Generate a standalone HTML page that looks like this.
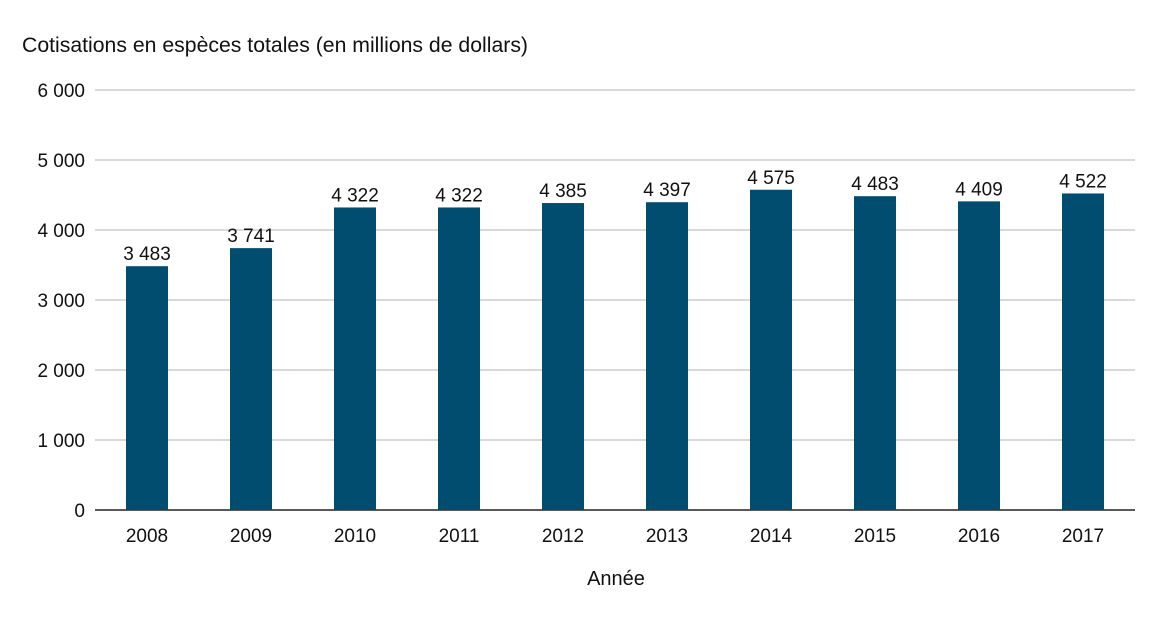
<!DOCTYPE html>
<html><head><meta charset="utf-8"><style>
body{margin:0;background:#fff;}
svg text{font-family:"Liberation Sans Narrow","Liberation Sans",sans-serif;fill:#111;}
</style></head><body>
<svg id="chart" width="1171" height="618" viewBox="0 0 1171 618" xmlns="http://www.w3.org/2000/svg">
<text x="22" y="52" font-size="21" textLength="506" lengthAdjust="spacingAndGlyphs">Cotisations en espèces totales (en millions de dollars)</text>
<g id="grid"></g><g id="bars"></g><g id="xlabels"></g>
<text x="616" y="585" font-size="20" text-anchor="middle">Année</text>
</svg>
<script>
const categories=["2008","2009","2010","2011","2012","2013","2014","2015","2016","2017"];
const values=[3483,3741,4322,4322,4385,4397,4575,4483,4409,4522];
const valueLabels=["3 483","3 741","4 322","4 322","4 385","4 397","4 575","4 483","4 409","4 522"];
const yTicks=[0,1000,2000,3000,4000,5000,6000];
const yTickLabels=["0","1 000","2 000","3 000","4 000","5 000","6 000"];
const NS="http://www.w3.org/2000/svg";
const x0=95,x1=1135,y0=510,yTop=90,yMax=6000;
const y=v=>y0-(v/yMax)*(y0-yTop);
const band=(x1-x0)/categories.length;
const xc=i=>x0+band*(i+0.5);
function mk(t,a,p){const e=document.createElementNS(NS,t);for(const k in a)e.setAttribute(k,a[k]);p.appendChild(e);return e;}
const g=document.getElementById('grid');
yTicks.forEach((t,i)=>{
 const l=mk('line',{x1:x0,x2:x1,y1:y(t),y2:y(t),stroke:i==0?'#222':'#b3b3b3','stroke-width':i==0?1.5:1},g);
 
 
 const tx=mk('text',{x:85,y:y(t)+7,'font-size':19,'text-anchor':'end'},g);
 tx.textContent=yTickLabels[i];
 
 
});
const b=document.getElementById('bars'),xl=document.getElementById('xlabels');
const bw=42;
values.forEach((v,i)=>{
 const r=mk('rect',{x:xc(i)-bw/2,y:y(v),width:bw,height:y0-y(v),fill:'#004d70'},b);
 
 
 const t=mk('text',{x:xc(i),y:y(v)-6,'font-size':19,'text-anchor':'middle'},b);
 t.textContent=valueLabels[i];
 
 
 const c=mk('text',{x:xc(i),y:542,'font-size':19,'text-anchor':'middle'},xl);
 c.textContent=categories[i];
 
 
});
</script>
</body></html>
